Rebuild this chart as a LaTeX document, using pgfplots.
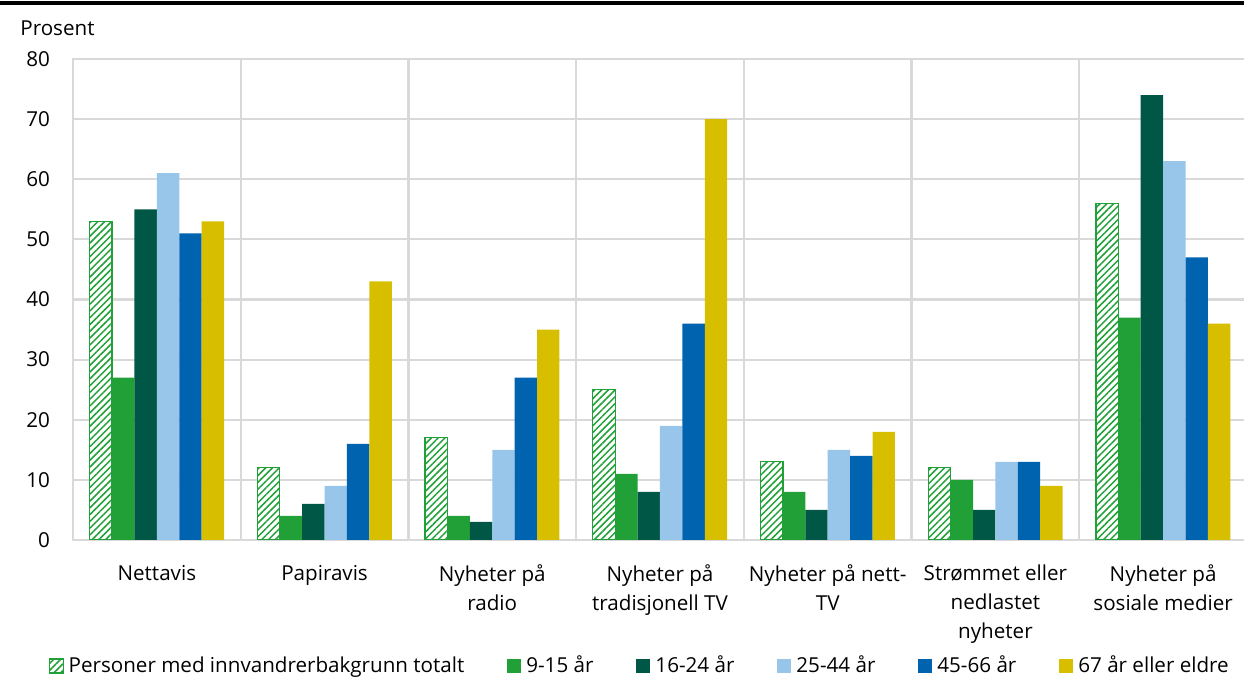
\documentclass[border=0pt]{standalone}
\usepackage{pgfplots}
\pgfplotsset{compat=1.18}
\usepackage{fontspec}
\setmainfont{Open Sans}
\usetikzlibrary{patterns.meta}
\definecolor{cgreen}{HTML}{21A038}
\definecolor{cdark}{HTML}{005745}
\definecolor{clight}{HTML}{97C6EA}
\definecolor{cblue}{HTML}{0063AF}
\definecolor{cyellow}{HTML}{D7BF00}
\definecolor{cgrid}{HTML}{D9D9D9}
\begin{document}
\begin{tikzpicture}[font=\fontsize{10.3}{14}\selectfont]
\useasboundingbox (0,0) rectangle (622pt,343pt);
\draw[line width=2pt] (0,341.5pt) -- (622pt,341.5pt);
\node[anchor=base west, inner sep=0] at (10pt,325pt) {Prosent};
\begin{axis}[
  at={(36.5pt,73pt)}, anchor=south west,
  scale only axis, width=587pt, height=240.5pt,
  xmin=-0.5, xmax=6.5, ymin=0, ymax=80,
  ybar=0pt, bar width=11.2pt,
  xtick={0,...,6},
  xticklabels={Nettavis, Papiravis, Nyheter på\\radio, Nyheter på\\tradisjonell TV, Nyheter på nett-\\TV, Strømmet eller\\nedlastet\\nyheter, Nyheter på\\sosiale medier},
  minor xtick={-0.5,0.5,...,6.5},
  xminorgrids, ymajorgrids,
  grid style={cgrid, line width=1.1pt},
  minor grid style={cgrid, line width=1.1pt},
  axis line style={cgrid, line width=1.1pt},
  major tick length=0pt, minor tick length=0pt,
  ytick={0,10,...,80},
  tick label style={font=\fontsize{10.3}{14.5}\selectfont},
  /pgf/number format/assume math mode=true,
  yticklabel style={xshift=-8pt},
  xticklabel style={align=center, yshift=-9pt},
  legend columns=6,
  legend cell align=left,
  legend style={at={(0.4835,-0.262)}, anchor=center, draw=none, fill=none,
    font=\fontsize{10.3}{14}\selectfont,
    /tikz/every odd column/.append style={column sep=0.5pt},
    /tikz/every even column/.append style={column sep=19.5pt}},
  legend image code/.code={\path[#1] (0pt,-3.5pt) rectangle (7pt,3.5pt);},
]
\addplot[fill=white, draw=cgreen, line width=0.6pt, postaction={pattern={Lines[angle=45,distance=2.4pt,line width=0.75pt]}, pattern color=cgreen}]
  coordinates {(0,53) (1,12) (2,17) (3,25) (4,13) (5,12) (6,56)};
\addplot[fill=cgreen, draw=none]
  coordinates {(0,27) (1,4) (2,4) (3,11) (4,8) (5,10) (6,37)};
\addplot[fill=cdark, draw=none]
  coordinates {(0,55) (1,6) (2,3) (3,8) (4,5) (5,5) (6,74)};
\addplot[fill=clight, draw=none]
  coordinates {(0,61) (1,9) (2,15) (3,19) (4,15) (5,13) (6,63)};
\addplot[fill=cblue, draw=none]
  coordinates {(0,51) (1,16) (2,27) (3,36) (4,14) (5,13) (6,47)};
\addplot[fill=cyellow, draw=none]
  coordinates {(0,53) (1,43) (2,35) (3,70) (4,18) (5,9) (6,36)};
\legend{Personer med innvandrerbakgrunn totalt, 9-15 år, 16-24 år, 25-44 år, 45-66 år, 67 år eller eldre}
\end{axis}
\end{tikzpicture}
\end{document}
